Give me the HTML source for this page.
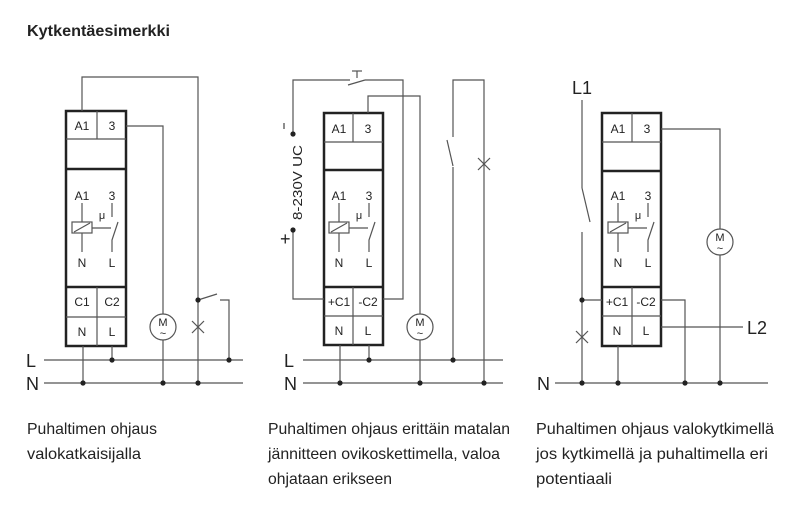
<!DOCTYPE html>
<html><head><meta charset="utf-8"><style>
html,body{margin:0;padding:0;background:#fff;}
svg{display:block;}
text{font-family:"Liberation Sans",sans-serif;fill:#222;}
</style></head><body>
<svg width="800" height="506" viewBox="0 0 800 506" xmlns="http://www.w3.org/2000/svg">
<text x="27" y="36" font-size="16" font-weight="bold" textLength="143" lengthAdjust="spacingAndGlyphs">Kytkentäesimerkki</text>

<defs>
<g id="inner" stroke="#444" stroke-width="1.2" fill="none">
  <!-- relative origin: box left x, inner symbol -->
</g>
</defs>

<g stroke="#555" stroke-width="1.2" fill="none">
<!-- ===== Diagram 1 ===== -->
<rect x="66" y="111" width="60" height="235" stroke="#222" stroke-width="2.5"/>
<line x1="66" y1="139" x2="126" y2="139"/>
<line x1="66" y1="169" x2="126" y2="169" stroke="#222" stroke-width="2.5"/>
<line x1="66" y1="287" x2="126" y2="287" stroke="#222" stroke-width="2.5"/>
<line x1="66" y1="317" x2="126" y2="317"/>
<line x1="97" y1="111" x2="97" y2="139"/>
<line x1="97" y1="287" x2="97" y2="346"/>
<polyline points="82,111 82,77 198,77 198,383"/>
<polyline points="126,126 163,126 163,314"/>
<line x1="163" y1="340" x2="163" y2="383"/>
<circle cx="163" cy="327" r="13"/>
<line x1="44" y1="360" x2="243" y2="360"/>
<line x1="44" y1="383" x2="243" y2="383"/>
<line x1="83" y1="346" x2="83" y2="383"/>
<line x1="112" y1="346" x2="112" y2="360"/>
<polyline points="198,300 217,294"/>
<polyline points="220,300 229,300 229,360"/>
<line x1="192" y1="321" x2="204" y2="333"/><line x1="204" y1="321" x2="192" y2="333"/>
<!-- inner -->
<line x1="82" y1="203" x2="82" y2="222"/><rect x="72" y="222" width="20" height="11"/><line x1="74" y1="232" x2="90" y2="223"/>
<line x1="82" y1="233" x2="82" y2="252"/>
<line x1="92" y1="228" x2="111" y2="228"/>
<line x1="112" y1="203" x2="112" y2="217"/>
<polyline points="112,252 112,240 118,222"/>

<!-- ===== Diagram 2 ===== -->
<rect x="324" y="113" width="59" height="232" stroke="#222" stroke-width="2.5"/>
<line x1="324" y1="142" x2="383" y2="142"/>
<line x1="324" y1="170" x2="383" y2="170" stroke="#222" stroke-width="2.5"/>
<line x1="324" y1="287" x2="383" y2="287" stroke="#222" stroke-width="2.5"/>
<line x1="324" y1="316" x2="383" y2="316"/>
<line x1="353" y1="113" x2="353" y2="142"/>
<line x1="353" y1="287" x2="353" y2="345"/>
<polyline points="368,113 368,96 420,96 420,314"/>
<circle cx="420" cy="327" r="13"/>
<line x1="420" y1="340" x2="420" y2="383"/>
<polyline points="383,299 403,299 403,80 365,80"/>
<line x1="365" y1="80" x2="348" y2="85"/>
<polyline points="350,80 293,80 293,134"/>
<polyline points="293,230 293,299 324,299"/>
<line x1="303" y1="360" x2="503" y2="360"/>
<line x1="303" y1="383" x2="503" y2="383"/>
<line x1="340" y1="345" x2="340" y2="383"/>
<line x1="369" y1="345" x2="369" y2="360"/>
<polyline points="453,137 453,80 484,80 484,383"/>
<line x1="447" y1="140" x2="453" y2="166"/>
<line x1="453" y1="167" x2="453" y2="360"/>
<line x1="478" y1="158" x2="490" y2="170"/><line x1="490" y1="158" x2="478" y2="170"/>
<line x1="352" y1="71" x2="362" y2="71"/><line x1="357" y1="71" x2="357" y2="78"/>
<!-- inner -->
<line x1="339" y1="203" x2="339" y2="222"/><rect x="329" y="222" width="20" height="11"/><line x1="331" y1="232" x2="347" y2="223"/>
<line x1="339" y1="233" x2="339" y2="252"/>
<line x1="349" y1="228" x2="368" y2="228"/>
<line x1="369" y1="203" x2="369" y2="217"/>
<polyline points="369,252 369,240 375,222"/>

<!-- ===== Diagram 3 ===== -->
<rect x="602" y="113" width="59" height="233" stroke="#222" stroke-width="2.5"/>
<line x1="602" y1="142" x2="661" y2="142"/>
<line x1="602" y1="171" x2="661" y2="171" stroke="#222" stroke-width="2.5"/>
<line x1="602" y1="287" x2="661" y2="287" stroke="#222" stroke-width="2.5"/>
<line x1="602" y1="316" x2="661" y2="316"/>
<line x1="632" y1="113" x2="632" y2="142"/>
<line x1="632" y1="287" x2="632" y2="346"/>
<polyline points="661,129 720,129 720,229"/>
<circle cx="720" cy="242" r="13"/>
<line x1="720" y1="255" x2="720" y2="383"/>
<line x1="582" y1="100" x2="582" y2="188"/>
<line x1="582" y1="188" x2="590" y2="222"/>
<line x1="582" y1="232" x2="582" y2="383"/>
<line x1="582" y1="300" x2="602" y2="300"/>
<line x1="576" y1="331" x2="588" y2="343"/><line x1="588" y1="331" x2="576" y2="343"/>
<polyline points="661,300 685,300 685,383"/>
<line x1="661" y1="327" x2="743" y2="327"/>
<line x1="618" y1="346" x2="618" y2="383"/>
<line x1="555" y1="383" x2="768" y2="383"/>
<!-- inner -->
<line x1="618" y1="203" x2="618" y2="222"/><rect x="608" y="222" width="20" height="11"/><line x1="610" y1="232" x2="626" y2="223"/>
<line x1="618" y1="233" x2="618" y2="252"/>
<line x1="628" y1="228" x2="647" y2="228"/>
<line x1="648" y1="203" x2="648" y2="217"/>
<polyline points="648,252 648,240 654,222"/>
</g>

<g fill="#222">
<circle cx="83" cy="383" r="2.6"/><circle cx="112" cy="360" r="2.6"/><circle cx="163" cy="383" r="2.6"/><circle cx="198" cy="383" r="2.6"/><circle cx="198" cy="300" r="2.6"/><circle cx="229" cy="360" r="2.6"/>
<circle cx="340" cy="383" r="2.6"/><circle cx="369" cy="360" r="2.6"/><circle cx="420" cy="383" r="2.6"/><circle cx="453" cy="360" r="2.6"/><circle cx="484" cy="383" r="2.6"/><circle cx="293" cy="134" r="2.6"/><circle cx="293" cy="230" r="2.6"/>
<circle cx="582" cy="383" r="2.6"/><circle cx="618" cy="383" r="2.6"/><circle cx="685" cy="383" r="2.6"/><circle cx="720" cy="383" r="2.6"/><circle cx="582" cy="300" r="2.6"/>
</g>

<g font-size="12" text-anchor="middle">
<text x="82" y="130">A1</text><text x="112" y="130">3</text>
<text x="82" y="200">A1</text><text x="112" y="200">3</text><text x="102" y="219" font-size="11">μ</text>
<text x="82" y="267">N</text><text x="112" y="267">L</text>
<text x="82" y="306">C1</text><text x="112" y="306">C2</text>
<text x="82" y="336">N</text><text x="112" y="336">L</text>
<text x="163" y="326" font-size="11">M</text><text x="163" y="337" font-size="11">~</text>

<text x="339" y="133">A1</text><text x="368" y="133">3</text>
<text x="339" y="200">A1</text><text x="369" y="200">3</text><text x="359" y="219" font-size="11">μ</text>
<text x="339" y="267">N</text><text x="369" y="267">L</text>
<text x="339" y="306">+C1</text><text x="368" y="306">-C2</text>
<text x="339" y="335">N</text><text x="368" y="335">L</text>
<text x="420" y="326" font-size="11">M</text><text x="420" y="337" font-size="11">~</text>

<text x="618" y="133">A1</text><text x="647" y="133">3</text>
<text x="618" y="200">A1</text><text x="648" y="200">3</text><text x="638" y="219" font-size="11">μ</text>
<text x="618" y="267">N</text><text x="648" y="267">L</text>
<text x="617" y="306">+C1</text><text x="646" y="306">-C2</text>
<text x="617" y="335">N</text><text x="646" y="335">L</text>
<text x="720" y="241" font-size="11">M</text><text x="720" y="252" font-size="11">~</text>
</g>

<g font-size="18">
<text x="26" y="367">L</text><text x="26" y="390">N</text>
<text x="284" y="367">L</text><text x="284" y="390">N</text>
<text x="537" y="390">N</text>
<text x="572" y="94">L1</text>
<text x="747" y="334">L2</text>
<text x="280" y="245">+</text>
</g>
<line x1="284" y1="123" x2="284" y2="129" stroke="#444" stroke-width="1.2"/>
<text x="0" y="0" font-size="13" transform="translate(302,220) rotate(-90)" textLength="75" lengthAdjust="spacingAndGlyphs">8-230V UC</text>

<g font-size="16">
<text x="27" y="434" textLength="130" lengthAdjust="spacingAndGlyphs">Puhaltimen ohjaus</text>
<text x="27" y="459" textLength="114" lengthAdjust="spacingAndGlyphs">valokatkaisijalla</text>
<text x="268" y="434" textLength="242" lengthAdjust="spacingAndGlyphs">Puhaltimen ohjaus erittäin matalan</text>
<text x="268" y="459" textLength="232" lengthAdjust="spacingAndGlyphs">jännitteen ovikoskettimella, valoa</text>
<text x="268" y="484" textLength="124" lengthAdjust="spacingAndGlyphs">ohjataan erikseen</text>
<text x="536" y="434" textLength="238" lengthAdjust="spacingAndGlyphs">Puhaltimen ohjaus valokytkimellä</text>
<text x="536" y="459" textLength="232" lengthAdjust="spacingAndGlyphs">jos kytkimellä ja puhaltimella eri</text>
<text x="536" y="484" textLength="76" lengthAdjust="spacingAndGlyphs">potentiaali</text>
</g>
</svg>
</body></html>
